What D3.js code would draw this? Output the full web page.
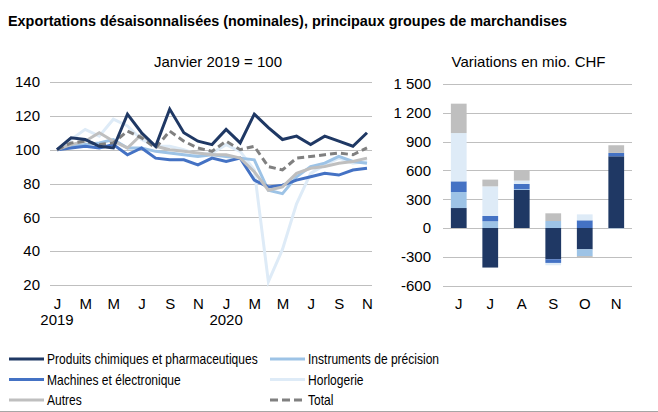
<!DOCTYPE html>
<html><head><meta charset="utf-8">
<script src="https://cdn.jsdelivr.net/npm/d3@7"></script>
<style>
body{margin:0;background:#fff;}
svg{display:block;font-family:"Liberation Sans",Arial,sans-serif;}
</style></head>
<body><svg id="c" width="658" height="412"></svg>
<script>
// ---- Data ----
const months = ["2019-01","2019-02","2019-03","2019-04","2019-05","2019-06","2019-07","2019-08","2019-09","2019-10","2019-11","2019-12",
"2020-01","2020-02","2020-03","2020-04","2020-05","2020-06","2020-07","2020-08","2020-09","2020-10","2020-11"];
const monthLabels = ["J","F","M","A","M","J","J","A","S","O","N","D","J","F","M","A","M","J","J","A","S","O","N"];
const seriesNames = ["Produits chimiques et pharmaceutiques","Machines et électronique","Autres","Instruments de précision","Horlogerie","Total"];
const pharma =      [100,107,106,102,101,121,110,102,124,110,105,103,112,104,121,113,106,108,103,108,105,102,110];
const machines =    [100,101,102,101,103, 97,101, 95, 94, 94, 91, 95, 93, 95, 82, 78, 79, 82, 84, 86, 85, 88, 89];
const autres =      [100,103,105,110,105,101,109,102,100, 99, 98, 97, 97, 95, 87, 76, 78, 86, 89, 90, 92, 93, 95];
const instruments = [100,102,103,104,106,101,101, 99, 98, 97, 96, 97, 96, 95, 94, 76, 74, 84, 90, 92, 96, 93, 92];
const horlogerie =  [100,106,112,108,118,114,106,102,102,100, 97, 98,103, 99, 88, 22, 41, 68, 86, 91, 95, 92, 93];
const total =       [100,104,105,103,104,111,107,101,111,105,101, 99,105,100,102, 90, 88, 95, 96, 97, 98, 97,101];
const leftTicks = [20,40,60,80,100,120,140];

const barCats = ["J","J ","A","S","O","N"];
const barPharma =      [208,-412, 396,-326,-222, 747];
const barInstruments = [167,  70,   8,  73, -70,  -5];
const barMachines =    [111,  55,  55, -38,  80,  35];
const barHorlogerie =  [503, 309,  35, -24,  62,   0];
const barAutres =      [306,  70, 104,  80, -10,  80];
const rightTicks = [-600,-300,0,300,600,900,1200,1500];

const colors = {pharma:"#1f3864",machines:"#4472c4",instruments:"#9dc3e6",horlogerie:"#deebf7",autres:"#bfbfbf",total:"#808080"};

const svg = d3.select("#c");
const fmt = d3.formatLocale({decimal:",",thousands:" ",grouping:[3],currency:["",""],minus:"-"}).format(",d");
const FF = "Liberation Sans, Arial, sans-serif";

// Title
svg.append("text").attr("x",8).attr("y",26).attr("font-size",14.4).attr("font-weight","bold").attr("fill","#000")
  .text("Exportations désaisonnalisées (nominales), principaux groupes de marchandises");

// ---- Left chart ----
const x = d3.scalePoint().domain(months).range([57,367]);
const y = d3.scaleLinear().domain([20,140]).range([285,82]);
const L = svg.append("g");
L.append("text").attr("x",218).attr("y",67).attr("text-anchor","middle").attr("font-size",15).text("Janvier 2019 = 100");
L.append("g").selectAll("line").data(leftTicks).join("line")
  .attr("x1",50).attr("x2",372).attr("y1",d=>Math.round(y(d))+0.5).attr("y2",d=>Math.round(y(d))+0.5)
  .attr("stroke","#bfbfbf").attr("stroke-width",1);
const ly = L.append("g").attr("transform","translate(40,0)")
  .call(d3.axisLeft(y).tickValues(leftTicks).tickSize(0).tickPadding(0));
ly.select(".domain").remove();
ly.selectAll("text").attr("font-size",15).attr("fill","#000").attr("font-family",FF);

const lx = L.append("g").attr("transform","translate(0,298)")
  .call(d3.axisBottom(x).tickValues(months.filter((d,i)=>i%2===0)).tickFormat(d=>monthLabels[months.indexOf(d)]).tickSize(0).tickPadding(0));
lx.select(".domain").remove();
lx.selectAll("text").attr("font-size",15).attr("fill","#000").attr("font-family",FF);
L.append("text").attr("x",x("2019-01")).attr("y",325).attr("text-anchor","middle").attr("font-size",15).text("2019");
L.append("text").attr("x",x("2020-01")).attr("y",325).attr("text-anchor","middle").attr("font-size",15).text("2020");

const line = d3.line().x((d,i)=>x(months[i])).y(d=>y(d));
const lineSeries = [
  {v:horlogerie,c:colors.horlogerie},
  {v:instruments,c:colors.instruments},
  {v:machines,c:colors.machines},
  {v:autres,c:colors.autres},
  {v:total,c:colors.total,dash:"7,4"},
  {v:pharma,c:colors.pharma}
];
L.append("g").selectAll("path").data(lineSeries).join("path")
  .attr("d",d=>line(d.v)).attr("fill","none").attr("stroke",d=>d.c).attr("stroke-width",3)
  .attr("stroke-linejoin","miter").attr("stroke-dasharray",d=>d.dash||null);

// ---- Right chart ----
const xb = d3.scaleBand().domain(barCats).range([443,632]).paddingInner(0.5).paddingOuter(0.25);
const yb = d3.scaleLinear().domain([-600,1500]).range([285.6,84]);
const R = svg.append("g");
R.append("text").attr("x",528.5).attr("y",67).attr("text-anchor","middle").attr("font-size",15).text("Variations en mio. CHF");
R.append("g").selectAll("line").data(rightTicks).join("line")
  .attr("x1",443).attr("x2",632).attr("y1",d=>Math.round(yb(d))+0.5).attr("y2",d=>Math.round(yb(d))+0.5)
  .attr("stroke","#bfbfbf").attr("stroke-width",1);
const ry = R.append("g").attr("transform","translate(431,0)")
  .call(d3.axisLeft(yb).tickValues(rightTicks).tickFormat(fmt).tickSize(0).tickPadding(0));
ry.select(".domain").remove();
ry.selectAll("text").attr("font-size",15).attr("fill","#000").attr("font-family",FF);
const rx = R.append("g").attr("transform","translate(0,298)")
  .call(d3.axisBottom(xb).tickFormat(d=>d.trim()).tickSize(0).tickPadding(0));
rx.select(".domain").remove();
rx.selectAll("text").attr("font-size",15).attr("fill","#000").attr("font-family",FF);

const keys = ["pharma","instruments","machines","horlogerie","autres"];
const table = barCats.map((c,i)=>({cat:c,pharma:barPharma[i],instruments:barInstruments[i],machines:barMachines[i],horlogerie:barHorlogerie[i],autres:barAutres[i]}));
const stacked = d3.stack().keys(keys).offset(d3.stackOffsetDiverging)(table);
R.append("g").selectAll("g").data(stacked).join("g").attr("fill",d=>colors[d.key])
  .selectAll("rect").data(d=>d).join("rect")
  .attr("x",d=>xb(d.data.cat)).attr("width",xb.bandwidth())
  .attr("y",d=>yb(Math.max(d[0],d[1]))).attr("height",d=>Math.abs(yb(d[0])-yb(d[1])));

// ---- Legend ----
const legend = [
  {n:seriesNames[0],c:colors.pharma,col:0,row:0},
  {n:seriesNames[3],c:colors.instruments,col:1,row:0},
  {n:seriesNames[1],c:colors.machines,col:0,row:1},
  {n:seriesNames[4],c:colors.horlogerie,col:1,row:1},
  {n:seriesNames[2],c:colors.autres,col:0,row:2},
  {n:seriesNames[5],c:colors.total,col:1,row:2,dash:"8,4"}
];
const lg = svg.append("g");
const items = lg.selectAll("g").data(legend).join("g")
  .attr("transform",d=>`translate(${d.col?270:9},${359+d.row*20.5})`);
items.append("line").attr("x1",0).attr("x2",35).attr("y1",0).attr("y2",0)
  .attr("stroke",d=>d.c).attr("stroke-width",3).attr("stroke-dasharray",d=>d.dash||null);
items.append("text").attr("transform","translate(38,5) scale(0.86,1)").attr("font-size",14).text(d=>d.n);

svg.append("line").attr("x1",0).attr("x2",658).attr("y1",411.5).attr("y2",411.5).attr("stroke","#a6a6a6");
</script></body></html>
